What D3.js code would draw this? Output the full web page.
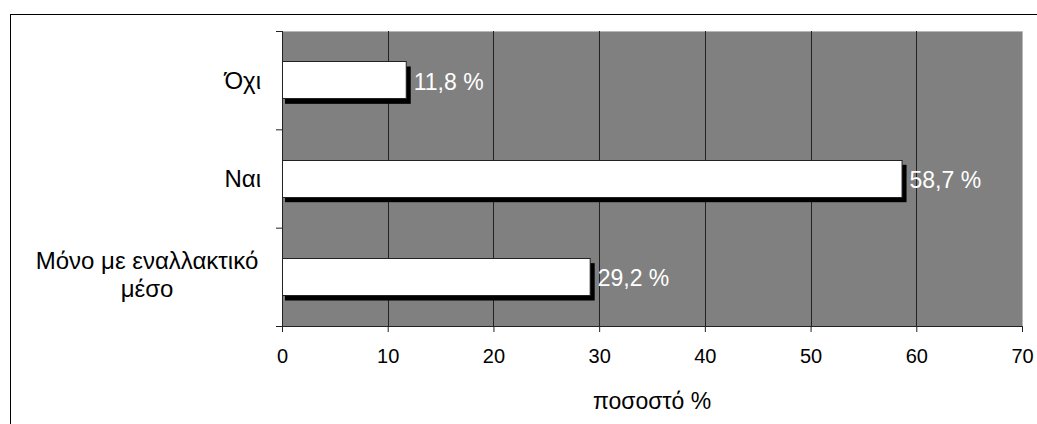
<!DOCTYPE html>
<html>
<head>
<meta charset="utf-8">
<script src="https://cdn.jsdelivr.net/npm/d3@7"></script>
<style>
  html, body { margin: 0; padding: 0; background: #fff; }
  svg { display: block; }
  text { font-family: "Liberation Sans", Arial, sans-serif; }
</style>
</head>
<body>
<svg id="chart" width="1037" height="424"></svg>
<script>
const categories = [["Όχι"], ["Ναι"], ["Μόνο με εναλλακτικό", "μέσο"]];
const categoryKeys = ["Όχι", "Ναι", "Μόνο με εναλλακτικό μέσο"];
const values = [11.8, 58.7, 29.2];
const valueLabels = ["11,8 %", "58,7 %", "29,2 %"];
const xTicks = [0, 10, 20, 30, 40, 50, 60, 70];
const xTitle = "ποσοστό %";

const svg = d3.select("#chart");
const W = 1037, H = 424;
const plot = { left: 282, right: 1022, top: 31, bottom: 326 };
const FS_CAT = 24, FS_VAL = 23, FS_TICK = 20, FS_TITLE = 23;

svg.append("rect").attr("width", W).attr("height", H).attr("fill", "#fff");
// outer chart border (extends beyond the canvas to the right and bottom)
svg.append("rect")
  .attr("x", 10.5).attr("y", 14.5).attr("width", 1100).attr("height", 500)
  .attr("fill", "none").attr("stroke", "#000").attr("stroke-width", 1);

const x = d3.scaleLinear().domain([0, 70]).range([plot.left, plot.right]);
const y = d3.scaleBand().domain(categoryKeys).range([plot.top, plot.bottom])
  .paddingInner(0.62).paddingOuter(0.31);
const yEdges = d3.scaleLinear().domain([0, categoryKeys.length]).range([plot.top, plot.bottom]);

// plot background
svg.append("rect")
  .attr("x", plot.left).attr("y", plot.top)
  .attr("width", plot.right - plot.left).attr("height", plot.bottom - plot.top)
  .attr("fill", "#808080");
// light frame on top/right
svg.append("path")
  .attr("d", `M${plot.left},${plot.top + 0.5}H${plot.right + 0.5}V${plot.bottom}`)
  .attr("fill", "none").attr("stroke", "#b8b8b8").attr("stroke-width", 1);

// gridlines
svg.append("g").selectAll("line")
  .data(xTicks.filter(t => t > 0 && t < 70))
  .join("line")
  .attr("x1", d => Math.round(x(d)) + 0.5).attr("x2", d => Math.round(x(d)) + 0.5)
  .attr("y1", plot.top).attr("y2", plot.bottom)
  .attr("stroke", "#222").attr("stroke-width", 1);

// bars: shadows then bars
const gBars = svg.append("g");
gBars.selectAll("rect.shadow")
  .data(values)
  .join("rect").attr("class", "shadow")
  .attr("x", (d) => x(0) + 3)
  .attr("y", (d, i) => y(categoryKeys[i]) + 5)
  .attr("width", d => x(d) - x(0) + 1)
  .attr("height", y.bandwidth())
  .attr("fill", "#000");
gBars.selectAll("rect.bar")
  .data(values)
  .join("rect").attr("class", "bar")
  .attr("x", x(0) + 0.5)
  .attr("y", (d, i) => Math.round(y(categoryKeys[i])) + 0.5)
  .attr("width", d => x(d) - x(0) - 1)
  .attr("height", Math.round(y.bandwidth()))
  .attr("fill", "#fff").attr("stroke", "#222").attr("stroke-width", 1);

// value labels
svg.append("g").selectAll("text")
  .data(values)
  .join("text")
  .attr("x", d => x(d) + 7)
  .attr("y", (d, i) => y(categoryKeys[i]) + y.bandwidth() / 2 + 9.5)
  .attr("fill", "#fff").attr("font-size", FS_VAL)
  .text((d, i) => valueLabels[i]);

// x axis
const xAxis = svg.append("g")
  .attr("transform", `translate(0,${plot.bottom})`)
  .call(d3.axisBottom(x).tickValues(xTicks).tickSize(6).tickPadding(4).tickFormat(d3.format("d")));
xAxis.select(".domain").attr("stroke", "#222").attr("d", `M${plot.left},0.5H${plot.right}`);
xAxis.selectAll(".tick line").attr("stroke", "#222");
xAxis.selectAll(".tick text")
  .attr("font-size", FS_TICK).attr("fill", "#000")
  .attr("font-family", '"Liberation Sans", Arial, sans-serif')
  .attr("dy", null).attr("y", 36.5);

// y axis (tick marks at category boundaries)
const yAxis = svg.append("g")
  .attr("transform", `translate(${plot.left},0)`)
  .call(d3.axisLeft(yEdges).tickValues(d3.range(categoryKeys.length + 1)).tickSize(6).tickFormat(""));
yAxis.select(".domain").attr("stroke", "#222").attr("d", `M0.5,${plot.top}V${plot.bottom}`);
yAxis.selectAll(".tick line").attr("stroke", "#222");

// category labels
const catG = svg.append("g");
categories.forEach((lines, i) => {
  const cy = y(categoryKeys[i]) + y.bandwidth() / 2;
  if (lines.length === 1) {
    catG.append("text")
      .attr("x", 261).attr("y", cy + 8.5)
      .attr("text-anchor", "end").attr("font-size", FS_CAT).attr("fill", "#000")
      .text(lines[0]);
  } else {
    const t = catG.append("text")
      .attr("text-anchor", "middle").attr("font-size", FS_CAT).attr("fill", "#000");
    lines.forEach((ln, j) => {
      t.append("tspan").attr("x", 147).attr("y", cy - 7.5 + j * 28).text(ln);
    });
  }
});

// axis title
svg.append("text")
  .attr("x", 652).attr("y", 409)
  .attr("text-anchor", "middle").attr("font-size", FS_TITLE).attr("fill", "#000")
  .text(xTitle);
</script>
</body>
</html>
